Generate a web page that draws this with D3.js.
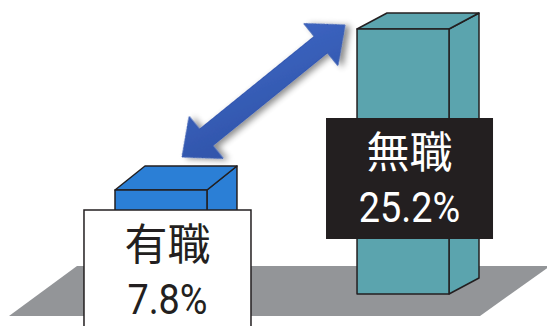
<!DOCTYPE html>
<html>
<head>
<meta charset="utf-8">
<script src="https://cdn.jsdelivr.net/npm/d3@7"></script>
<style>
  body { margin: 0; background: #fff; }
  svg { display: block; }
</style>
</head>
<body>
<div id="chart"></div>
<script>
// data
const categories = ["有職", "無職"];
const values = [7.8, 25.2];
const valueLabels = ["7.8%", "25.2%"];

// layout
const width = 547, height = 326;
const cjkFont = "'Noto Sans CJK JP', 'Noto Sans', sans-serif";
const numFont = "Roboto, 'Noto Sans', sans-serif";
const baselines = [272, 294];     // bars stand at different depths on the floor
const labelTops = [210, 118];
const boxW = 167, boxH = 121;

const svg = d3.select("#chart")
  .append("svg")
    .attr("width", width)
    .attr("height", height);

const defs = svg.append("defs");
const grad = defs.append("linearGradient")
    .attr("id", "arrowGrad")
    .attr("x1", "0%").attr("y1", "100%")
    .attr("x2", "100%").attr("y2", "0%");
grad.append("stop").attr("offset", "0%").attr("stop-color", "#2f53a8");
grad.append("stop").attr("offset", "100%").attr("stop-color", "#3d65c2");

defs.append("filter")
    .attr("id", "shadow")
    .attr("x", "-20%").attr("y", "-20%")
    .attr("width", "140%").attr("height", "140%")
  .append("feDropShadow")
    .attr("dx", 3).attr("dy", 4)
    .attr("stdDeviation", 3)
    .attr("flood-color", "#000")
    .attr("flood-opacity", 0.45);

// scales
const x = d3.scaleBand()
    .domain(categories)
    .range([115, 449])
    .paddingInner(0.62)
    .paddingOuter(0);

const h = d3.scaleLinear()
    .domain([0, 25.2])
    .range([0, 265]);

const depthY = d3.scaleLinear()
    .domain([115, 357])
    .range([-24, -16]);
const depthX = 30;

const color = d3.scaleOrdinal()
    .domain(categories)
    .range(["#2b7fd6", "#5ba4ae"]);

// floor
const floor = [[77, 266], [550, 266], [480, 316], [9, 316]];
svg.append("path")
    .attr("d", d3.line()(floor) + "Z")
    .attr("fill", "#939598");

// bars
const bars = categories.map((c, i) => {
  const x0 = x(c), w = x.bandwidth();
  const base = baselines[i];
  const top = base - h(values[i]);
  const dy = depthY(x0);
  return { c, i, x0, w, base, top, dy };
});

const g = svg.append("g")
  .selectAll("g.bar")
  .data(bars)
  .join("g")
    .attr("class", "bar")
    .attr("stroke", "#231f20")
    .attr("stroke-width", 1.5)
    .attr("stroke-linejoin", "round")
    .attr("fill", (d) => color(d.c));

g.append("path")
    .attr("d", (d) => d3.line()([
      [d.x0 + d.w, d.top], [d.x0 + d.w + depthX, d.top + d.dy],
      [d.x0 + d.w + depthX, d.base + d.dy], [d.x0 + d.w, d.base]
    ]) + "Z");

g.append("path")
    .attr("d", (d) => d3.line()([
      [d.x0, d.top], [d.x0 + d.w, d.top],
      [d.x0 + d.w + depthX, d.top + d.dy], [d.x0 + depthX, d.top + d.dy]
    ]) + "Z");

g.append("rect")
    .attr("x", (d) => d.x0)
    .attr("y", (d) => d.top)
    .attr("width", (d) => d.w)
    .attr("height", (d) => d.base - d.top);

// double arrow between the two bars
const a = [bars[0].x0 + 67, bars[0].top - 33];
const b = [bars[1].x0 - 12, bars[1].top - 4];
const len = Math.hypot(b[0] - a[0], b[1] - a[1]);
const headL = 31, headW = 27, shaftW = 10.5;
const arrowPts = [
  [0, 0], [headL, -headW], [headL, -shaftW], [len - headL, -shaftW],
  [len - headL, -headW], [len, 0], [len - headL, headW], [len - headL, shaftW],
  [headL, shaftW], [headL, headW]
];
const ang = Math.atan2(b[1] - a[1], b[0] - a[0]) * 180 / Math.PI;
svg.append("path")
    .attr("d", d3.line()(arrowPts) + "Z")
    .attr("transform", `translate(${a[0]},${a[1]}) rotate(${ang})`)
    .attr("fill", "url(#arrowGrad)")
    .attr("stroke", "#3559b0")
    .attr("stroke-width", 1)
    .attr("filter", "url(#shadow)");

// labels
const lab = svg.append("g")
  .selectAll("g.label")
  .data(bars)
  .join("g")
    .attr("class", "label")
    .attr("transform", (d) => `translate(${d.x0 + d.w / 2 + 6.5 - boxW / 2},${labelTops[d.i]})`);

lab.append("rect")
    .attr("width", boxW)
    .attr("height", boxH)
    .attr("fill", (d) => d.i === 0 ? "#fff" : "#231f20")
    .attr("stroke", (d) => d.i === 0 ? "#231f20" : "none")
    .attr("stroke-width", 1.5);

lab.append("text")
    .attr("x", boxW / 2)
    .attr("y", 50)
    .attr("text-anchor", "middle")
    .attr("font-family", cjkFont)
    .attr("font-size", 43)
    .attr("fill", (d) => d.i === 0 ? "#231f20" : "#fff")
    .text((d) => d.c);

lab.append("text")
    .attr("transform", `translate(${boxW / 2},104) scale(0.9,1)`)
    .attr("text-anchor", "middle")
    .attr("font-family", numFont)
    .attr("font-size", 42)
    .attr("fill", (d) => d.i === 0 ? "#231f20" : "#fff")
    .text((d) => valueLabels[d.i]);
</script>
</body>
</html>
